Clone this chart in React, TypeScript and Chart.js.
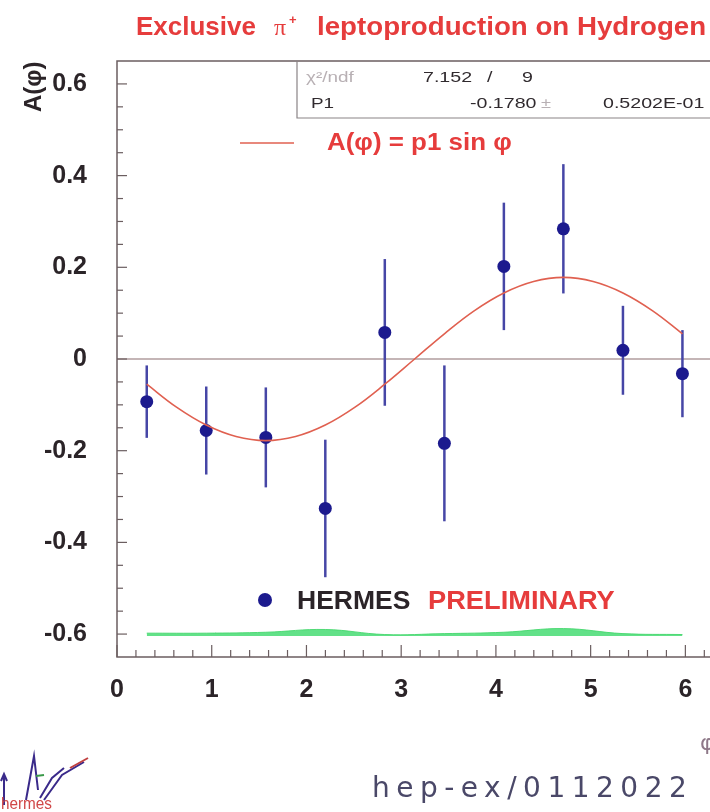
import React, { useEffect, useRef } from "react";
import { Chart, registerables } from "chart.js";

Chart.register(...registerables);

// ---- data ----
const PHI = [0.314, 0.942, 1.571, 2.199, 2.827, 3.456, 4.084, 4.712, 5.341, 5.969];
const ASYM = [-0.093, -0.156, -0.171, -0.326, 0.058, -0.184, 0.202, 0.284, 0.019, -0.032];
const ASYM_ERR = [0.079, 0.096, 0.109, 0.15, 0.16, 0.17, 0.139, 0.141, 0.097, 0.095];

// fit curve A(phi) = p1 sin(phi)
const FIT_PHI = [0.314, 0.628, 0.942, 1.257, 1.571, 1.885, 2.199, 2.513, 2.827, 3.142, 3.456, 3.77, 4.084, 4.398, 4.712, 5.027, 5.341, 5.655, 5.969];
const FIT_A = [-0.055, -0.105, -0.144, -0.169, -0.178, -0.169, -0.144, -0.105, -0.055, 0, 0.055, 0.105, 0.144, 0.169, 0.178, 0.169, 0.144, 0.105, 0.055];

// systematic band near -0.6
const SYS_LOW = [-0.604, -0.604, -0.604, -0.604, -0.604, -0.604, -0.604, -0.604, -0.604, -0.604];
const SYS_HIGH = [-0.598, -0.598, -0.596, -0.590, -0.601, -0.599, -0.596, -0.588, -0.599, -0.601];

const X_TICKS = [0, 1, 2, 3, 4, 5, 6];
const Y_TICKS = [-0.6, -0.4, -0.2, 0, 0.2, 0.4, 0.6];

const STATS_CHI2 = "7.152";
const STATS_NDF = "9";
const STATS_P1 = "-0.1780";
const STATS_P1_ERR = "0.5202E-01";

const X_MIN = 0;
const X_MAX = 6.26;
const Y_MIN = -0.65;
const Y_MAX = 0.65;

const FONT = "'Liberation Sans', Arial, Helvetica, sans-serif";
const RED = "#e63c3c";
const DARK = "#2b2428";
const BLUE = "#1c1a8e";

function stretched(ctx: CanvasRenderingContext2D, text: string, x: number, y: number, sx: number) {
  ctx.save();
  ctx.translate(x, y);
  ctx.scale(sx, 1);
  ctx.fillText(text, 0, 0);
  ctx.restore();
}

const decorPlugin = {
  id: "decor",
  beforeDatasetsDraw(chart: any) {
    const { ctx, chartArea: ca, scales } = chart;
    const xs = scales.x;
    const ys = scales.y;
    ctx.save();
    // zero line
    ctx.strokeStyle = "#b09c9e";
    ctx.lineWidth = 1.6;
    ctx.beginPath();
    ctx.moveTo(ca.left, ys.getPixelForValue(0));
    ctx.lineTo(ca.right, ys.getPixelForValue(0));
    ctx.stroke();
    // error bars
    ctx.strokeStyle = "#4646a6";
    ctx.lineWidth = 2.5;
    PHI.forEach((p, i) => {
      const px = xs.getPixelForValue(p);
      ctx.beginPath();
      ctx.moveTo(px, ys.getPixelForValue(ASYM[i] + ASYM_ERR[i]));
      ctx.lineTo(px, ys.getPixelForValue(ASYM[i] - ASYM_ERR[i]));
      ctx.stroke();
    });
    ctx.restore();
  },
  afterDraw(chart: any) {
    const { ctx, chartArea: ca, scales } = chart;
    const xs = scales.x;
    const ys = scales.y;
    ctx.save();
    // frame
    ctx.strokeStyle = "#6b5e60";
    ctx.lineWidth = 1.5;
    ctx.beginPath();
    ctx.moveTo(ca.right, ca.top);
    ctx.lineTo(ca.left, ca.top);
    ctx.lineTo(ca.left, ca.bottom);
    ctx.lineTo(ca.right, ca.bottom);
    ctx.stroke();
    // inward ticks
    ctx.lineWidth = 1.2;
    for (let k = 0; k <= 31; k++) {
      const v = k * 0.2;
      if (v > X_MAX) break;
      const major = k % 5 === 0;
      const px = xs.getPixelForValue(v);
      ctx.beginPath();
      ctx.moveTo(px, ca.bottom);
      ctx.lineTo(px, ca.bottom - (major ? 12 : 7));
      ctx.stroke();
    }
    for (let k = -12; k <= 12; k++) {
      const v = k * 0.05;
      const major = k % 4 === 0;
      const py = ys.getPixelForValue(v);
      ctx.beginPath();
      ctx.moveTo(ca.left, py);
      ctx.lineTo(ca.left + (major ? 10 : 6), py);
      ctx.stroke();
    }

    // title
    ctx.fillStyle = RED;
    ctx.textBaseline = "alphabetic";
    ctx.textAlign = "left";
    ctx.font = `bold 26px ${FONT}`;
    ctx.fillText("Exclusive", 136, 35);
    ctx.font = `24px 'Liberation Serif', serif`;
    ctx.fillText("\u03c0", 274, 35);
    ctx.font = `bold 13px ${FONT}`;
    ctx.fillText("+", 289, 24);
    ctx.font = `bold 26px ${FONT}`;
    stretched(ctx, "leptoproduction on Hydrogen", 317, 35, 1.065);

    // y axis title
    ctx.save();
    ctx.translate(41, 112);
    ctx.rotate(-Math.PI / 2);
    ctx.fillStyle = DARK;
    ctx.font = `bold 24px ${FONT}`;
    ctx.fillText("A(\u03c6)", 0, 0);
    ctx.restore();

    // x axis title (cut at right edge)
    ctx.fillStyle = "#8e7888";
    ctx.font = `22px 'DejaVu Sans', sans-serif`;
    ctx.fillText("\u03c6", 700, 750);

    // stats box
    const bx = 297;
    const bb = 118;
    ctx.strokeStyle = "#8a8486";
    ctx.lineWidth = 1.2;
    ctx.beginPath();
    ctx.moveTo(bx, ca.top);
    ctx.lineTo(bx, bb);
    ctx.lineTo(ca.right, bb);
    ctx.stroke();
    ctx.font = `14px ${FONT}`;
    ctx.fillStyle = "#b8b0b4";
    stretched(ctx, "\u03c7\u00b2/ndf", 306, 82, 1.35);
    ctx.fillStyle = "#302a2e";
    stretched(ctx, STATS_CHI2, 423, 82, 1.4);
    stretched(ctx, "/", 487, 82, 1.4);
    stretched(ctx, STATS_NDF, 522, 82, 1.4);
    stretched(ctx, "P1", 311, 108, 1.35);
    stretched(ctx, STATS_P1, 470, 108, 1.4);
    ctx.fillStyle = "#b8b0b4";
    stretched(ctx, "\u00b1", 541, 108, 1.3);
    ctx.fillStyle = "#302a2e";
    stretched(ctx, STATS_P1_ERR, 603, 108, 1.4);

    // fit legend
    ctx.strokeStyle = "#e06050";
    ctx.lineWidth = 1.5;
    ctx.beginPath();
    ctx.moveTo(240, 143);
    ctx.lineTo(294, 143);
    ctx.stroke();
    ctx.fillStyle = RED;
    ctx.font = `bold 24px ${FONT}`;
    stretched(ctx, "A(\u03c6) = p1 sin \u03c6", 327, 150, 1.08);

    // HERMES PRELIMINARY
    ctx.fillStyle = BLUE;
    ctx.beginPath();
    ctx.arc(265, 600, 7, 0, Math.PI * 2);
    ctx.fill();
    ctx.font = `bold 25px ${FONT}`;
    ctx.fillStyle = DARK;
    stretched(ctx, "HERMES", 297, 609, 1.06);
    ctx.fillStyle = RED;
    stretched(ctx, "PRELIMINARY", 428, 609, 1.09);

    // handwritten reference
    ctx.fillStyle = "#4a4868";
    ctx.font = `28px 'DejaVu Sans', sans-serif`;
    (ctx as any).letterSpacing = "6.5px";
    stretched(ctx, "hep-ex/0112022", 372, 797, 1.0);
    (ctx as any).letterSpacing = "0px";

    // hermes logo
    ctx.lineWidth = 2;
    ctx.strokeStyle = "#3a2a8a";
    ctx.beginPath();
    ctx.moveTo(4, 805);
    ctx.lineTo(4, 776);
    ctx.moveTo(1, 781);
    ctx.lineTo(4, 774);
    ctx.lineTo(7, 781);
    ctx.moveTo(26, 800);
    ctx.lineTo(34, 756);
    ctx.lineTo(38, 790);
    ctx.moveTo(40, 798);
    ctx.lineTo(52, 778);
    ctx.lineTo(64, 768);
    ctx.moveTo(44, 800);
    ctx.lineTo(62, 775);
    ctx.lineTo(84, 762);
    ctx.stroke();
    ctx.strokeStyle = "#3a9a4a";
    ctx.beginPath();
    ctx.moveTo(36, 776);
    ctx.lineTo(44, 775);
    ctx.stroke();
    ctx.strokeStyle = "#c04040";
    ctx.beginPath();
    ctx.moveTo(70, 768);
    ctx.lineTo(88, 758);
    ctx.stroke();
    ctx.fillStyle = "#d04848";
    ctx.font = `17px ${FONT}`;
    stretched(ctx, "hermes", 1, 809, 0.9);

    ctx.restore();
  },
};

export default function App() {
  const ref = useRef<HTMLCanvasElement | null>(null);
  useEffect(() => {
    if (!ref.current) return;
    const chart = new Chart(ref.current, {
      type: "scatter",
      data: {
        datasets: [
          {
            type: "line",
            data: PHI.map((p, i) => ({ x: p, y: SYS_LOW[i] })),
            borderWidth: 0,
            pointRadius: 0,
            tension: 0.4,
            fill: false,
            borderColor: "rgba(0,0,0,0)",
          } as any,
          {
            type: "line",
            data: PHI.map((p, i) => ({ x: p, y: SYS_HIGH[i] })),
            borderWidth: 1,
            borderColor: "rgba(70,215,110,0.9)",
            backgroundColor: "rgba(70,220,115,0.85)",
            pointRadius: 0,
            tension: 0.4,
            fill: "-1",
          } as any,
          {
            type: "line",
            data: FIT_PHI.map((p, i) => ({ x: p, y: FIT_A[i] })),
            borderColor: "#e06050",
            borderWidth: 1.6,
            pointRadius: 0,
            tension: 0.4,
            fill: false,
          } as any,
          {
            type: "scatter",
            data: PHI.map((p, i) => ({ x: p, y: ASYM[i] })),
            pointRadius: 6.5,
            pointBackgroundColor: BLUE,
            pointBorderColor: BLUE,
            pointBorderWidth: 0,
          } as any,
        ],
      },
      options: {
        responsive: false,
        animation: false,
        events: [],
        layout: { autoPadding: false, padding: { left: 0, top: 61, right: 0, bottom: 95 } },
        plugins: { legend: { display: false }, tooltip: { enabled: false }, title: { display: false } },
        scales: {
          x: {
            type: "linear",
            min: X_MIN,
            max: X_MAX,
            afterBuildTicks: (s: any) => {
              s.ticks = X_TICKS.map((v) => ({ value: v }));
            },
            afterFit: (s: any) => {
              s.height = 60;
              s.paddingLeft = 0;
              s.paddingRight = 0;
            },
            grid: { display: false, drawTicks: false },
            border: { display: false },
            ticks: {
              padding: 18,
              color: DARK,
              font: { family: FONT, size: 25, weight: "bold" },
              maxRotation: 0,
              autoSkip: false,
              callback: (v: any) => String(v),
            },
          },
          y: {
            type: "linear",
            min: Y_MIN,
            max: Y_MAX,
            afterBuildTicks: (s: any) => {
              s.ticks = Y_TICKS.map((v) => ({ value: v }));
            },
            afterFit: (s: any) => {
              s.width = 117;
              s.paddingTop = 0;
              s.paddingBottom = 0;
            },
            grid: { display: false, drawTicks: false },
            border: { display: false },
            ticks: {
              padding: 30,
              color: DARK,
              font: { family: FONT, size: 25, weight: "bold" },
              autoSkip: false,
              callback: (v: any) => (Math.abs(v) < 1e-9 ? "0" : Number(v).toFixed(1)),
            },
          },
        },
      },
      plugins: [decorPlugin],
    } as any);
    return () => chart.destroy();
  }, []);
  return (
    <div style={{ position: "absolute", left: 0, top: 0, width: 710, height: 812, background: "#fff" }}>
      <canvas ref={ref} width={710} height={812} style={{ display: "block", width: 710, height: 812 }} />
    </div>
  );
}
